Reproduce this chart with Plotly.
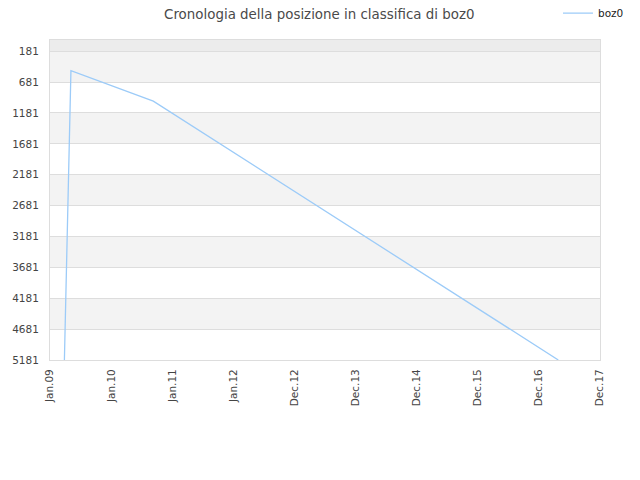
import plotly.graph_objects as go
from datetime import date, timedelta

# data
dates = ["2009-03-28", "2009-05-06", "2010-09-10", "2017-04-25"]
ranks = [5181, 497, 990, 5181]
series_name = "boz0"

y_ticks = [181, 681, 1181, 1681, 2181, 2681, 3181, 3681, 4181, 4681, 5181]
x_tick_text = ["Jan.09", "Jan.10", "Jan.11", "Jan.12", "Dec.12", "Dec.13",
               "Dec.14", "Dec.15", "Dec.16", "Dec.17"]
x_start = date(2009, 1, 1)
x_step_days = 365
x_tick_vals = [(x_start + timedelta(days=x_step_days * i)).isoformat() for i in range(len(x_tick_text))]
x_end = x_tick_vals[-1]
y_range = [5181, 0]

fig = go.Figure()
fig.add_trace(go.Scatter(x=dates, y=ranks, mode="lines", name=series_name,
                         line=dict(color="#9ccbf8", width=1.3)))

shapes = []
# top strip above first tick
shapes.append(dict(type="rect", xref="paper", yref="y", x0=0, x1=1,
                   y0=y_range[1], y1=y_ticks[0], fillcolor="#ececec",
                   line=dict(width=0), layer="below"))
for i in range(len(y_ticks) - 1):
    if i % 2 == 0:
        shapes.append(dict(type="rect", xref="paper", yref="y", x0=0, x1=1,
                           y0=y_ticks[i], y1=y_ticks[i + 1], fillcolor="#f3f3f3",
                           line=dict(width=0), layer="below"))

fig.update_layout(
    width=632, height=472,
    margin=dict(l=42, r=40, t=32, b=120, autoexpand=False),
    paper_bgcolor="white", plot_bgcolor="white",
    font=dict(family="DejaVu Sans", size=11, color="#444"),
    title=dict(text="Cronologia della posizione in classifica di boz0",
               x=0.4925, xanchor="center", y=0.987, yanchor="middle",
               font=dict(family="DejaVu Sans", size=13.4, color="#4a4a4a")),
    shapes=shapes,
    showlegend=True,
    legend=dict(x=0.9236, xanchor="left", y=1.084, yanchor="middle",
                font=dict(size=10.5, color="#222"), bgcolor="rgba(0,0,0,0)"),
    xaxis=dict(type="date", range=[x_start.isoformat(), x_end],
               tickmode="array", tickvals=x_tick_vals, ticktext=x_tick_text,
               tickangle=-90, showgrid=False, zeroline=False,
               showline=True, linecolor="#dddddd", mirror=True,
               ticks="", ticklabelstandoff=4, automargin=False,
               tickfont=dict(size=10.5, color="#444")),
    yaxis=dict(range=y_range, tickmode="array", tickvals=y_ticks,
               showgrid=True, gridcolor="#dddddd", zeroline=False,
               showline=True, linecolor="#dddddd", mirror=True,
               ticks="", ticklabelstandoff=8, automargin=False,
               tickfont=dict(size=10.5, color="#444")),
)

fig.write_html("out.html")
